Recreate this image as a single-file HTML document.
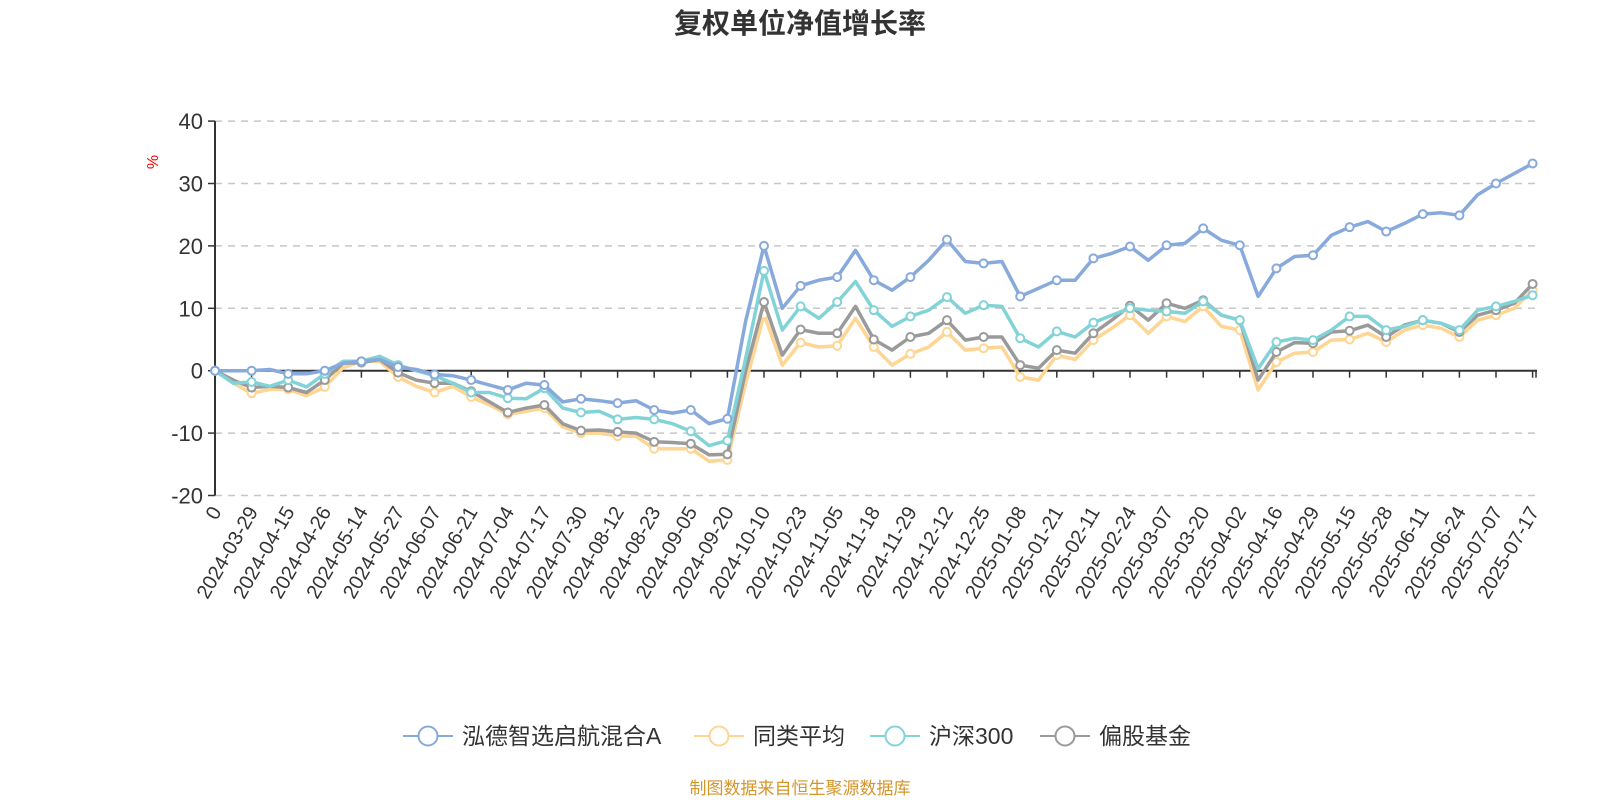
<!DOCTYPE html>
<html><head><meta charset="utf-8">
<style>
html,body{margin:0;padding:0;background:#fff;}
svg{display:block;font-family:"Liberation Sans","Noto Sans CJK SC",sans-serif;}
</style></head>
<body>
<svg id="chart" width="1600" height="800" viewBox="0 0 1600 800" xmlns="http://www.w3.org/2000/svg">
<text x="800" y="33" text-anchor="middle" font-size="28" font-weight="bold" fill="#333">复权单位净值增长率</text>
<text x="0" y="0" transform="translate(158,162) rotate(-90)" text-anchor="middle" font-size="16" fill="#ff0000">%</text>
<g id="grid"></g>
<g id="yaxis"></g>
<g id="xaxis"></g>
<g id="series"></g>
<g id="legend"></g>
<text x="800" y="794" text-anchor="middle" font-size="17" fill="#d4962a">制图数据来自恒生聚源数据库</text>
</svg>
<script>
const tickLabels = ["0","2024-03-29","2024-04-15","2024-04-26","2024-05-14","2024-05-27","2024-06-07","2024-06-21","2024-07-04","2024-07-17","2024-07-30","2024-08-12","2024-08-23","2024-09-05","2024-09-20","2024-10-10","2024-10-23","2024-11-05","2024-11-18","2024-11-29","2024-12-12","2024-12-25","2025-01-08","2025-01-21","2025-02-11","2025-02-24","2025-03-07","2025-03-20","2025-04-02","2025-04-16","2025-04-29","2025-05-15","2025-05-28","2025-06-11","2025-06-24","2025-07-07","2025-07-17"];
const yTicks = [40,30,20,10,0,-10,-20];
const seriesNames = ["泓德智选启航混合A","同类平均","沪深300","偏股基金"];
const fundA = [0,0,0,0.2,-0.5,-0.5,0,1.2,1.5,1.8,0.6,0.2,-0.6,-0.8,-1.5,-2.3,-3.1,-2.0,-2.3,-5,-4.5,-4.8,-5.2,-4.8,-6.3,-6.8,-6.3,-8.5,-7.7,8,20,10,13.6,14.5,15,19.3,14.5,12.9,15,17.7,21,17.5,17.2,17.5,11.9,13.2,14.5,14.5,18,18.8,19.9,17.7,20.1,20.4,22.8,20.9,20.1,11.9,16.4,18.3,18.5,21.7,23,23.9,22.3,23.6,25.1,25.3,24.9,28.2,30,31.6,33.2];
const peerAvg = [0,-2,-3.6,-3,-3,-4,-2.6,0.5,1.5,1.5,-1,-2.5,-3.5,-2.5,-4.2,-5.5,-7,-6.5,-6,-9,-10,-10,-10.5,-10.5,-12.5,-12.5,-12.5,-14.5,-14.3,-2,9,0.9,4.5,3.8,4,8.4,3.8,0.9,2.7,3.8,6.2,3.3,3.6,3.8,-1.0,-1.5,2.5,1.8,4.9,6.8,8.9,6,8.7,7.9,10.3,7.1,6.5,-3.1,1.4,2.8,3,4.9,5,6,4.6,6.5,7.3,6.8,5.4,8.1,8.9,10,12.9];
const csi300 = [0,-2,-1.8,-2.5,-1.5,-2.6,-0.5,1.5,1.5,2.3,0.9,0,-0.8,-2.0,-3.5,-3.5,-4.4,-4.5,-2.8,-6,-6.7,-6.5,-7.8,-7.5,-7.8,-8.5,-9.7,-12,-11.2,2,16,6.5,10.3,8.4,11,14.3,9.7,7.1,8.7,9.7,11.8,9.2,10.5,10.3,5.2,3.8,6.3,5.4,7.7,8.9,10,9.7,9.5,9.2,11.1,8.9,8.1,0.3,4.6,5.2,4.9,6.5,8.7,8.7,6.5,7.1,8.1,7.6,6.5,9.7,10.3,11.1,12.1];
const equityFunds = [0,-1.5,-2.7,-2.5,-2.7,-3.5,-1.5,1.2,1.3,1.8,-0.3,-1.5,-2.0,-2.0,-3.3,-5.0,-6.7,-6,-5.5,-8.5,-9.6,-9.5,-9.8,-10,-11.4,-11.5,-11.7,-13.5,-13.4,0,11,2.5,6.6,6,6,10.3,5,3.3,5.4,6,8.1,4.9,5.4,5.4,0.9,0.4,3.3,2.8,6,8.1,10.4,8.1,10.8,10,11.3,8.9,8.1,-1.5,3,4.5,4.4,6.2,6.4,7.3,5.4,7.3,8.1,7.6,6.2,8.9,9.7,10.8,13.9];
const seriesData = [fundA, peerAvg, csi300, equityFunds];
const colors = ["#87a9dc","#fed592","#82d3d7","#9a9a9a"];
const seriesKeys = ["fund-a","peer-average","csi-300","equity-funds"];
const NS = "http://www.w3.org/2000/svg";
const X0 = 215, TICKSTEP = 36.6, AXIS_END = 1537;
const Y0 = 370.7, YPER = 6.24;
function xScale(idx){ return X0 + TICKSTEP * idx / 2; }
function tickX(i){ return X0 + TICKSTEP * i; }
function yScale(v){ return Y0 - v * YPER; }
function mk(tag, attrs, parent){ const e=document.createElementNS(NS,tag); for(const k in attrs) e.setAttribute(k, attrs[k]); parent.appendChild(e); return e; }

const grid=document.getElementById('grid'), yaxis=document.getElementById('yaxis'), xaxis=document.getElementById('xaxis');
yTicks.forEach(v=>{
  const y=yScale(v);
  if(v!==0){
    const g=mk('line',{x1:X0,x2:AXIS_END,y1:y,y2:y,stroke:'#c8c8c8','stroke-width':1.5,'stroke-dasharray':'7,6'},grid);
    
    
  }
  const t=mk('line',{x1:X0-7,x2:X0,y1:y,y2:y,stroke:'#333','stroke-width':1.5},yaxis);
  
  
  const l=mk('text',{x:X0-12,y:y+8,'text-anchor':'end','font-size':22,fill:'#333'},yaxis);
  l.textContent=v;
  
  
});
const ya=mk('line',{x1:X0,x2:X0,y1:yScale(40),y2:yScale(-20),stroke:'#333','stroke-width':2},yaxis);


const xa=mk('line',{x1:X0,x2:AXIS_END,y1:Y0,y2:Y0,stroke:'#333','stroke-width':2},xaxis);


tickLabels.forEach((lab,i)=>{
  const x=tickX(i);
  const t=mk('line',{x1:x,x2:x,y1:Y0,y2:Y0+7,stroke:'#333','stroke-width':1.5},xaxis);
  
  
  const l=mk('text',{x:0,y:0,'text-anchor':'end','font-size':20,fill:'#333'},xaxis);
  l.setAttribute('transform',`translate(${x+7},${yScale(-20)+16}) rotate(-60)`);
  l.textContent=lab;
  
  
});
const endTick=mk('line',{x1:AXIS_END-1,x2:AXIS_END-1,y1:Y0,y2:Y0+7,stroke:'#333','stroke-width':1.5},xaxis);



const sg=document.getElementById('series');
[1,3,2,0].forEach(si=>{
  const d=seriesData[si];
  const pts=d.map((v,i)=>xScale(i).toFixed(1)+','+yScale(v).toFixed(1)).join(' ');
  const g=mk('g',{},sg);
  
  
  const pl=mk('polyline',{points:pts,fill:'none',stroke:colors[si],'stroke-width':3.5,'stroke-linejoin':'round'},g);
  
  
  d.forEach((v,i)=>{
    if(i%2!==0) return;
    const c=mk('circle',{cx:xScale(i),cy:yScale(v),r:4,fill:'#fff',stroke:colors[si],'stroke-width':2},g);
    
    
  });
});

const lg=document.getElementById('legend');
const legendX=[403,694,870,1040];
seriesNames.forEach((n,i)=>{
  const g=mk('g',{},lg);
  
  
  const x=legendX[i], y=736;
  mk('line',{x1:x,x2:x+50,y1:y,y2:y,stroke:colors[i],'stroke-width':2},g);
  mk('circle',{cx:x+25,cy:y,r:9.5,fill:'#fff',stroke:colors[i],'stroke-width':2},g);
  const t=mk('text',{x:x+59,y:y+8,'font-size':23,fill:'#333'},g);
  t.textContent=n;
});
</script>
</body></html>
